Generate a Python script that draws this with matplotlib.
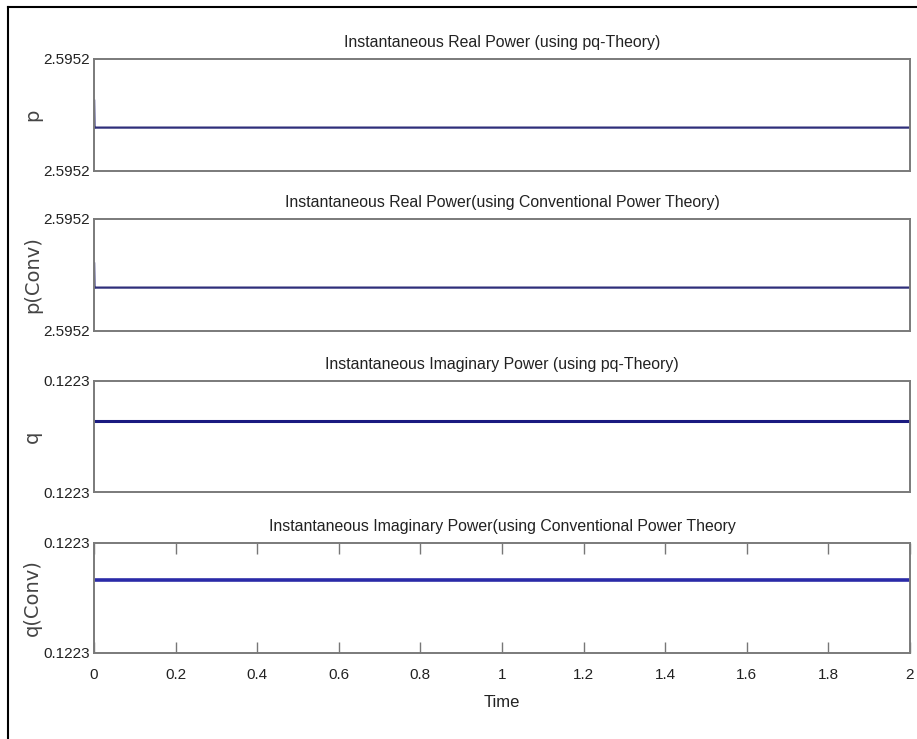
import matplotlib
matplotlib.use("Agg")
import matplotlib.pyplot as plt
from matplotlib.lines import Line2D

plt.rcParams['font.family'] = ['Liberation Sans', 'DejaVu Sans']

# time samples (initial transient then steady value)
time = [0.0, 0.0, 0.001, 2.0]

p_pq = [2.595191, 2.595211, 2.595191, 2.595191]
p_conv = [2.595191, 2.595209, 2.595191, 2.595191]
q_pq = [0.122311, 0.122311, 0.122311, 0.122311]
q_conv = [0.122313, 0.122313, 0.122313, 0.122313]

titles = [
    "Instantaneous Real Power (using pq-Theory)",
    "Instantaneous Real Power(using Conventional Power Theory)",
    "Instantaneous Imaginary Power (using pq-Theory)",
    "Instantaneous Imaginary Power(using Conventional Power Theory",
]
ylabels = ["p", "p(Conv)", "q", "q(Conv)"]
series = [p_pq, p_conv, q_pq, q_conv]
ylims = [(2.59516, 2.59524), (2.59516, 2.59524), (0.12226, 0.12234), (0.12226, 0.12234)]
xticks = [0, 0.2, 0.4, 0.6, 0.8, 1, 1.2, 1.4, 1.6, 1.8, 2]
xticklabels = ["0", "0.2", "0.4", "0.6", "0.8", "1", "1.2", "1.4", "1.6", "1.8", "2"]

W, H = 917, 739
fig = plt.figure(figsize=(W / 100, H / 100), dpi=100)

# axes boxes in pixels: (top, bottom)
boxes = [(59, 171), (219, 331), (381, 492), (543, 653)]
left, right = 94, 910
colors = ["#2e2e7a", "#2e2e7a", "#1a1a80", "#2a2aa8"]
widths = [1.6, 1.6, 2.2, 2.6]

spine_col = "#7a7a7a"
text_col = "#222222"

for i, (top, bot) in enumerate(boxes):
    ax = fig.add_axes([left / W, 1 - bot / H, (right - left) / W, (bot - top) / H])
    ax.plot(time, series[i], color=colors[i], lw=widths[i], solid_joinstyle="miter")
    ax.set_xlim(0, 2)
    ax.set_ylim(*ylims[i])
    lo, hi = ylims[i]
    ax.set_yticks([lo, hi])
    ax.set_yticklabels(["%.4f" % lo, "%.4f" % hi])
    for s in ax.spines.values():
        s.set_color(spine_col)
        s.set_linewidth(1.4)
    ax.tick_params(axis="y", direction="in", length=0, labelsize=11, colors=text_col, pad=3)
    if i == 3:
        ax.set_xticks(xticks)
        ax.set_xticklabels(xticklabels)
        ax.tick_params(axis="x", direction="in", length=8, width=1.0, color="#777777",
                       labelsize=11, labelcolor=text_col, top=True, pad=11)
        ax.set_xlabel("Time", fontsize=12, color=text_col, labelpad=9)
    else:
        ax.set_xticks([])
    ax.set_title(titles[i], fontsize=11.4, color=text_col, pad=9)
    ax.set_ylabel(ylabels[i], fontsize=14, color="#444444", family=['DejaVu Sans'])
    ax.yaxis.set_label_coords(-0.064, 0.5)

# outer frame of the original screenshot (top and left edges)
fig.add_artist(Line2D([8 / W, 8 / W], [0, 1 - 7 / H], color="black", lw=1.5))
fig.add_artist(Line2D([8 / W, 1], [1 - 7 / H, 1 - 7 / H], color="black", lw=1.5))

fig.savefig("out.png", dpi=100)
